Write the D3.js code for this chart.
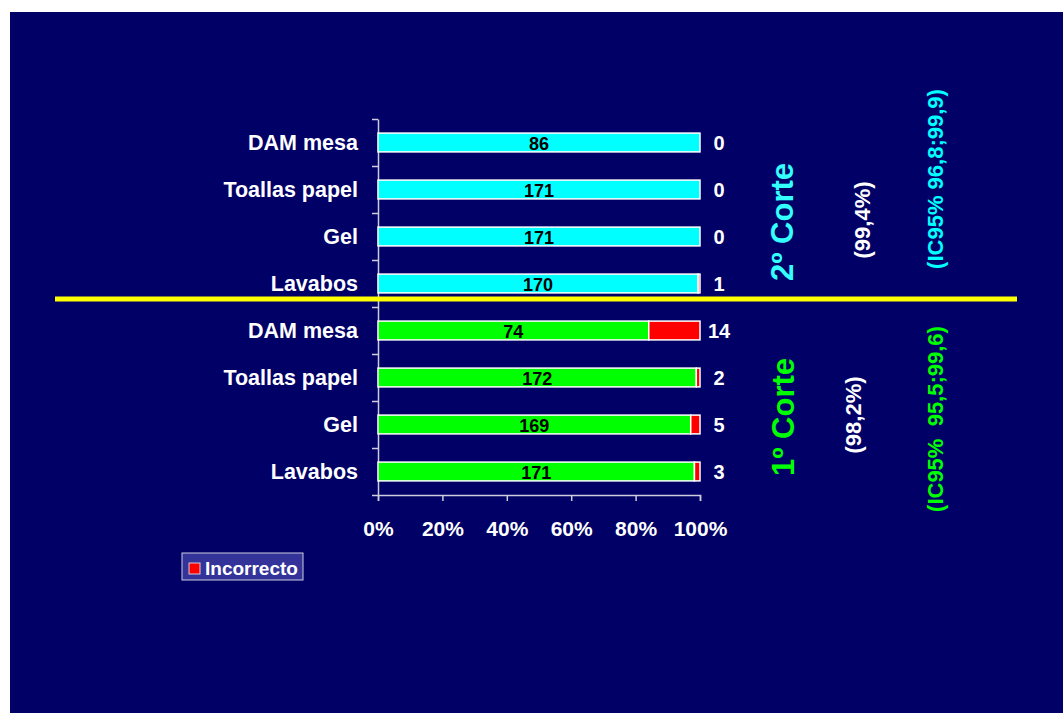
<!DOCTYPE html>
<html><head><meta charset="utf-8">
<script src="https://cdn.jsdelivr.net/npm/d3@7"></script>
<style>html,body{margin:0;padding:0;background:#fff;}svg{display:block;}</style>
</head><body>
<script>
const categories = ["DAM mesa","Toallas papel","Gel","Lavabos"];
const corte2Correcto = [86,171,171,170];
const corte2Incorrecto = [0,0,0,1];
const corte1Correcto = [74,172,169,171];
const corte1Incorrecto = [14,2,5,3];
const xTicks = [0,0.2,0.4,0.6,0.8,1];
const legendLabel = "Incorrecto";

const W=1063,H=713;
const svg=d3.select("body").append("svg").attr("width",W).attr("height",H);
const FONT="'Liberation Sans', Arial, sans-serif";
svg.append("rect").attr("x",10).attr("y",12).attr("width",W-10).attr("height",H-12).attr("fill","#000066");

const rows=[];
categories.forEach((c,i)=>rows.push({key:"c2-"+i,cat:c,ok:corte2Correcto[i],bad:corte2Incorrecto[i],color:"#00FFFF"}));
categories.forEach((c,i)=>rows.push({key:"c1-"+i,cat:c,ok:corte1Correcto[i],bad:corte1Incorrecto[i],color:"#00FF00"}));

const x=d3.scaleLinear().domain([0,1]).range([378,700]);
const y=d3.scaleBand().domain(rows.map(r=>r.key)).range([119,495]).paddingInner(0.6).paddingOuter(0.3);
const yl=d3.scaleLinear().domain([0,rows.length]).range([119,495]);

// axes
const gx=svg.append("g").attr("transform","translate(0,495)")
  .call(d3.axisBottom(x).tickValues(xTicks).tickFormat(d3.format(".0%")).tickSize(6).tickPadding(20));
gx.select(".domain").attr("stroke","#ccccdd").attr("stroke-width",1.5);
gx.selectAll(".tick line").attr("stroke","#ccccdd").attr("stroke-width",1.5);
gx.selectAll("text").attr("fill","#fff").attr("font-family",FONT).attr("font-weight","bold").attr("font-size",21);

const gy=svg.append("g").attr("transform","translate(378,0)")
  .call(d3.axisLeft(yl).tickValues(d3.range(0,rows.length+1)).tickFormat("").tickSize(6).tickSizeOuter(0));
gy.select(".domain").attr("stroke","#ccccdd").attr("stroke-width",1.5);
gy.selectAll(".tick line").attr("stroke","#ccccdd").attr("stroke-width",1.5);

// bars
const g=svg.append("g");
rows.forEach(r=>{
  const tot=r.ok+r.bad, p=r.ok/tot;
  g.append("rect").attr("x",x(0)).attr("y",y(r.key)).attr("width",x(p)-x(0)).attr("height",y.bandwidth())
    .attr("fill",r.color).attr("stroke","#fff").attr("stroke-width",1.5);
  if(r.bad>0){
    g.append("rect").attr("x",x(p)).attr("y",y(r.key)).attr("width",x(1)-x(p)).attr("height",y.bandwidth())
      .attr("fill","#FF0000").attr("stroke","#fff").attr("stroke-width",1.5);
  }
  const cy=y(r.key)+y.bandwidth()/2;
  g.append("text").attr("x",(x(0)+x(p))/2).attr("y",cy).attr("dy","0.4em").attr("text-anchor","middle")
    .attr("font-family",FONT).attr("font-weight","bold").attr("font-size",18).attr("fill","#000").text(r.ok);
  g.append("text").attr("x",719).attr("y",cy).attr("dy","0.36em").attr("text-anchor","middle")
    .attr("font-family",FONT).attr("font-weight","bold").attr("font-size",20).attr("fill","#fff").text(r.bad);
  g.append("text").attr("x",358).attr("y",cy).attr("dy","0.36em").attr("text-anchor","end")
    .attr("font-family",FONT).attr("font-weight","bold").attr("font-size",21.5).attr("fill","#fff").text(r.cat);
});

// yellow divider
svg.append("line").attr("x1",55).attr("x2",1017).attr("y1",299).attr("y2",299).attr("stroke","#FFFF00").attr("stroke-width",5);

// rotated annotations
function rot(t,cx,cy,size,color){
  svg.append("text").attr("transform",`translate(${cx},${cy}) rotate(-90)`).attr("text-anchor","middle").attr("dy","0.35em")
    .attr("font-family",FONT).attr("font-weight","bold").attr("font-size",size).attr("fill",color)
    .style("white-space","pre").text(t);
}
rot("2º Corte",782,222,31,"#33FFFF");
rot("(99,4%)",862,220,22,"#fff");
rot("(IC95% 96,8;99,9)",935,179,22,"#00FFFF");
rot("1º Corte",783,417,31,"#00FF00");
rot("(98,2%)",853,415,22,"#fff");
rot("(IC95%  95,5;99,6)",935,419,22,"#00FF00");

// legend
const lg=svg.append("g");
lg.append("rect").attr("x",182).attr("y",553).attr("width",121).attr("height",27).attr("fill","#333399").attr("stroke","#ccccdd").attr("stroke-width",1);
lg.append("rect").attr("x",189).attr("y",563).attr("width",11).attr("height",11).attr("fill","#FF0000").attr("stroke","#ccccdd").attr("stroke-width",1);
lg.append("text").attr("x",205).attr("y",568.5).attr("dy","0.36em").attr("font-family",FONT).attr("font-weight","bold").attr("font-size",19).attr("fill","#fff").text(legendLabel);
</script>
</body></html>
